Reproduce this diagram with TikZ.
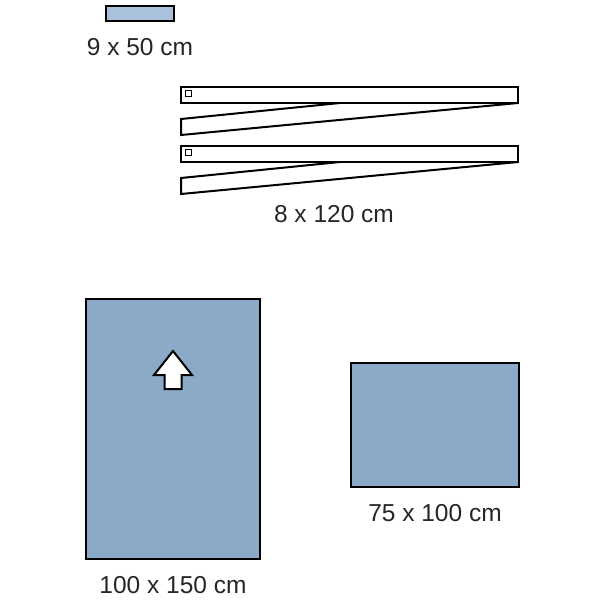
\documentclass[tikz,border=0pt]{standalone}
\usepackage{fontspec}
\setmainfont{Liberation Sans}
\usetikzlibrary{positioning}
\definecolor{drapeblue}{HTML}{8BAAC8}
\definecolor{tapeblue}{HTML}{A9C1DD}
\tikzset{
  drape/.style={draw=black, line width=2pt, fill=drapeblue, inner sep=0pt},
  size/.style={font=\fontsize{24.5}{28}\selectfont, text=black!85, anchor=base, inner sep=0pt},
  tape/.style={draw=black, line width=2pt, line join=miter, fill=white}
}
\begin{document}
\begin{tikzpicture}[x=1pt,y=-1pt]
  \useasboundingbox (0,0) rectangle (600,600);
  \node[drape, fill=tapeblue, minimum width=68pt, minimum height=15pt] (strip) at (140,13.5) {};
  \node[size, below=33pt of strip, anchor=base] (striplbl) {9 x 50 cm};
  \foreach \y in {87,146} {
    \draw[tape] (340,\y+16) -- (181,\y+32) -- (181,\y+48) -- (518,\y+16);
    \draw[tape] (181,\y) rectangle (518,\y+16);
    \draw[line width=1.2pt] (185.5,\y+3.5) rectangle (191.5,\y+9.5);
  }
  \coordinate (tapes) at (334,222);
  \node[size] (tapelbl) at (tapes) {8 x 120 cm};
  \node[drape, minimum width=174pt, minimum height=260pt] (big) at (173,429) {};
  \node[size, below=33pt of big, anchor=base] (biglbl) {100 x 150 cm};
  \node[drape, minimum width=168pt, minimum height=124pt] (small) at (435,425) {};
  \node[size, below=33pt of small, anchor=base] (smalllbl) {75 x 100 cm};
  \draw[line width=2pt, fill=white, line join=miter]
    (173,351) -- (192,375) -- (181.5,375) -- (181.5,389) -- (164.5,389) -- (164.5,375) -- (154,375) -- cycle;
\end{tikzpicture}
\end{document}
